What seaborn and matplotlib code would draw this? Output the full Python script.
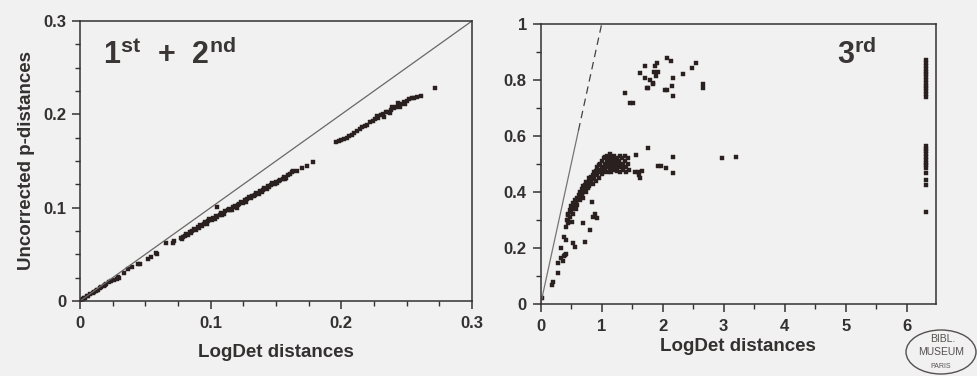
import numpy as np
import pandas as pd
import matplotlib
matplotlib.use("Agg")
import matplotlib.pyplot as plt
from matplotlib.patches import Ellipse
from matplotlib.ticker import MultipleLocator
import seaborn as sns

# ---- data ---------------------------------------------------------------
# left panel, 1st + 2nd codon positions
low_x = [0.001, 0.002, 0.003, 0.004, 0.005, 0.006, 0.008, 0.010, 0.011, 0.012,
         0.013, 0.014, 0.015, 0.016, 0.018, 0.019, 0.020, 0.022, 0.024, 0.026,
         0.028, 0.029, 0.030, 0.034, 0.037, 0.040, 0.044, 0.046, 0.052, 0.054,
         0.058, 0.059, 0.066, 0.071, 0.072]
low_y = [0.001, 0.002, 0.003, 0.003, 0.005, 0.005, 0.007, 0.009, 0.010, 0.011,
         0.012, 0.012, 0.014, 0.015, 0.016, 0.017, 0.018, 0.020, 0.021, 0.023,
         0.024, 0.026, 0.025, 0.030, 0.034, 0.036, 0.040, 0.040, 0.045, 0.047,
         0.051, 0.050, 0.062, 0.062, 0.064]

band1_x = [0.077, 0.078, 0.080, 0.081, 0.083, 0.084, 0.086, 0.087, 0.089, 0.090,
           0.092, 0.093, 0.095, 0.096, 0.098, 0.099, 0.101, 0.102, 0.104, 0.105,
           0.107, 0.108, 0.110, 0.111, 0.113, 0.114, 0.116, 0.117, 0.119, 0.120,
           0.122, 0.123, 0.125, 0.126, 0.128, 0.129, 0.131, 0.132, 0.134, 0.135,
           0.137, 0.138, 0.140, 0.141, 0.143, 0.144, 0.146, 0.147, 0.149, 0.150,
           0.152, 0.153, 0.155, 0.156, 0.158, 0.159, 0.161, 0.162,
           0.079, 0.085, 0.091, 0.097, 0.103, 0.109, 0.115, 0.121, 0.127, 0.133,
           0.139, 0.145, 0.151, 0.157, 0.163,
           0.105, 0.166, 0.170, 0.174, 0.178]
band1_y = [0.068, 0.066, 0.070, 0.072, 0.071, 0.074, 0.075, 0.077, 0.076, 0.079,
           0.081, 0.080, 0.083, 0.085, 0.086, 0.088, 0.087, 0.089, 0.091, 0.090,
           0.092, 0.094, 0.093, 0.096, 0.097, 0.099, 0.098, 0.101, 0.102, 0.100,
           0.104, 0.106, 0.105, 0.108, 0.109, 0.111, 0.110, 0.113, 0.114, 0.116,
           0.115, 0.118, 0.119, 0.121, 0.120, 0.123, 0.124, 0.126, 0.125, 0.128,
           0.129, 0.130, 0.131, 0.133, 0.132, 0.135, 0.136, 0.138,
           0.069, 0.073, 0.078, 0.083, 0.088, 0.092, 0.097, 0.103, 0.106, 0.112,
           0.117, 0.122, 0.126, 0.131, 0.139,
           0.1007, 0.139, 0.142, 0.145, 0.149]

band2_x = [0.196, 0.198, 0.200, 0.202, 0.204, 0.206, 0.208, 0.210, 0.212, 0.214,
           0.216, 0.218, 0.220, 0.222, 0.224, 0.226, 0.228, 0.230, 0.232, 0.234,
           0.236, 0.238, 0.240, 0.242, 0.244, 0.246, 0.248, 0.250, 0.252, 0.254,
           0.256, 0.258, 0.261, 0.227, 0.233, 0.239, 0.245, 0.249, 0.243, 0.237,
           0.272]
band2_y = [0.170, 0.171, 0.172, 0.174, 0.175, 0.177, 0.178, 0.180, 0.182, 0.184,
           0.186, 0.188, 0.189, 0.192, 0.193, 0.195, 0.196, 0.199, 0.200, 0.202,
           0.203, 0.205, 0.207, 0.208, 0.210, 0.211, 0.213, 0.214, 0.216, 0.217,
           0.218, 0.219, 0.220, 0.198, 0.197, 0.208, 0.208, 0.211, 0.212, 0.201,
           0.228]

# right panel, 3rd codon positions
third_x = [0.02, 0.18, 0.21, 0.29, 0.28, 0.34, 0.38, 0.40, 0.36, 0.42, 0.33, 0.41,
           0.39, 0.53, 0.56, 0.73, 0.70, 0.81, 0.86, 0.92, 0.89, 0.84, 0.45, 0.41,
           0.43, 0.51, 0.45,
           0.45, 0.45, 0.48, 0.48, 0.50, 0.50, 0.53, 0.53, 0.53, 0.56, 0.56, 0.58,
           0.58, 0.60, 0.60, 0.60, 0.63, 0.63, 0.65, 0.65, 0.65, 0.68, 0.68, 0.70,
           0.70, 0.70, 0.73, 0.73, 0.75, 0.75, 0.75, 0.78, 0.78, 0.80, 0.80, 0.80,
           0.83, 0.83, 0.85, 0.85, 0.85, 0.88, 0.88, 0.90, 0.90, 0.90, 0.93, 0.93,
           0.95, 0.95, 0.95, 0.98, 0.98, 1.00, 1.00, 1.00, 1.03, 1.03, 1.03, 1.05,
           1.05, 1.05, 1.08, 1.08, 1.08, 1.10, 1.10, 1.10, 1.13, 1.13, 1.13, 1.15,
           1.15, 1.15, 1.18, 1.18, 1.20, 1.20, 1.20, 1.23, 1.23, 1.25, 1.25, 1.25,
           1.28, 1.28, 1.30, 1.30, 1.30, 1.33, 1.33, 1.35, 1.35, 1.38, 1.38, 1.40,
           1.40, 1.43, 1.43, 1.45,
           1.55, 1.60, 1.62, 1.63, 1.57, 1.76, 1.93, 1.98, 2.06, 2.17, 2.17, 2.97,
           3.20, 1.66,
           1.38, 1.47, 1.51, 1.63, 1.71, 1.71, 1.74, 1.76, 1.84, 1.84, 1.85, 1.87,
           1.89, 1.90, 1.92, 2.04, 2.07, 2.07, 2.13, 2.15, 2.17, 2.17, 2.34, 2.48,
           2.54, 2.66, 2.66, 1.80]
third_y = [0.02, 0.068, 0.08, 0.11, 0.145, 0.163, 0.17, 0.175, 0.155, 0.18, 0.199,
           0.229, 0.24, 0.217, 0.205, 0.223, 0.288, 0.264, 0.312, 0.306, 0.32, 0.365,
           0.29, 0.274, 0.30, 0.294, 0.318,
           0.30, 0.32, 0.31, 0.335, 0.33, 0.35, 0.34, 0.36, 0.32, 0.35, 0.37, 0.36,
           0.34, 0.37, 0.38, 0.355, 0.375, 0.39, 0.385, 0.37, 0.40, 0.39, 0.41, 0.40,
           0.38, 0.42, 0.41, 0.425, 0.42, 0.40, 0.435, 0.43, 0.415, 0.435, 0.45, 0.42,
           0.44, 0.455, 0.445, 0.43, 0.46, 0.45, 0.47, 0.46, 0.44, 0.475, 0.465, 0.49,
           0.47, 0.45, 0.495, 0.48, 0.50, 0.485, 0.465, 0.51, 0.49, 0.52, 0.47, 0.50,
           0.48, 0.525, 0.49, 0.51, 0.53, 0.50, 0.47, 0.52, 0.485, 0.51, 0.535, 0.50,
           0.525, 0.47, 0.49, 0.515, 0.50, 0.48, 0.53, 0.51, 0.49, 0.52, 0.50, 0.475,
           0.49, 0.51, 0.50, 0.53, 0.47, 0.52, 0.49, 0.50, 0.48, 0.51, 0.53, 0.49,
           0.47, 0.50, 0.52, 0.48,
           0.473, 0.47, 0.46, 0.449, 0.532, 0.556, 0.493, 0.493, 0.485, 0.467, 0.526,
           0.52, 0.526, 0.475,
           0.752, 0.717, 0.717, 0.825, 0.85, 0.808, 0.773, 0.77, 0.79, 0.785, 0.828,
           0.85, 0.814, 0.862, 0.829, 0.764, 0.764, 0.877, 0.869, 0.779, 0.808, 0.743,
           0.82, 0.842, 0.862, 0.785, 0.770, 0.80]

# pairs with undefined LogDet, drawn at the right edge
sat_x = 6.32
sat_y = [0.74, 0.75, 0.76, 0.77, 0.78, 0.79, 0.80, 0.81, 0.82, 0.83, 0.84, 0.85,
         0.86, 0.87, 0.485, 0.495, 0.505, 0.515, 0.525, 0.535, 0.545, 0.555, 0.565,
         0.467, 0.443, 0.425, 0.33]

left_df = pd.DataFrame({"logdet": low_x + band1_x + band2_x,
                        "p": low_y + band1_y + band2_y})
right_df = pd.DataFrame({"logdet": third_x + [sat_x] * len(sat_y),
                         "p": third_y + sat_y})

# ---- style ---------------------------------------------------------------
sns.set_style("ticks")
ink = "#333030"
bg = "#f2f1f1"
plt.rcParams["font.family"] = ["Liberation Sans", "DejaVu Sans"]
plt.rcParams["font.weight"] = "bold"
plt.rcParams["mathtext.fontset"] = "custom"
plt.rcParams["mathtext.bf"] = "Liberation Sans:bold"
plt.rcParams["mathtext.rm"] = "Liberation Sans:bold"
plt.rcParams["text.color"] = ink
plt.rcParams["axes.labelcolor"] = ink
plt.rcParams["xtick.color"] = ink
plt.rcParams["ytick.color"] = ink

fig = plt.figure(figsize=(9.77, 3.76), dpi=100, facecolor=bg)
ax1 = fig.add_axes([0.0819, 0.1995, 0.4012, 0.7447])
ax2 = fig.add_axes([0.5534, 0.1915, 0.4046, 0.7447])

dot = "#2a2020"
sns.scatterplot(data=left_df, x="logdet", y="p", ax=ax1, marker="s", s=7,
                color=dot, edgecolor=dot, linewidth=0.3)
sns.scatterplot(data=right_df, x="logdet", y="p", ax=ax2, marker="s", s=12,
                color=dot, edgecolor=dot, linewidth=0.3)

# y = x reference lines
ax1.plot([0, 0.3], [0, 0.3], color="#6a6666", lw=0.9, zorder=1)
ax2.plot([0, 0.62], [0, 0.62], color="#777373", lw=0.9, zorder=1)
ax2.plot([0.62, 1.0], [0.62, 1.0], color="#444040", lw=0.9, ls=(0, (6, 4)), zorder=1)

ax1.set_xlim(0, 0.3)
ax1.set_ylim(0, 0.3)
ax1.set_xticks([0, 0.1, 0.2, 0.3])
ax1.set_yticks([0, 0.1, 0.2, 0.3])
ax1.xaxis.set_minor_locator(MultipleLocator(0.025))
ax1.yaxis.set_minor_locator(MultipleLocator(0.025))
ax1.set_xticklabels(["0", "0.1", "0.2", "0.3"])
ax1.set_yticklabels(["0", "0.1", "0.2", "0.3"])

ax2.set_xlim(0, 6.48)
ax2.set_ylim(0, 1)
ax2.set_xticks([0, 1, 2, 3, 4, 5, 6])
ax2.set_yticks([0, 0.2, 0.4, 0.6, 0.8, 1.0])
ax2.xaxis.set_minor_locator(MultipleLocator(0.5))
ax2.yaxis.set_minor_locator(MultipleLocator(0.1))
ax2.set_xticklabels(["0", "1", "2", "3", "4", "5", "6"])
ax2.set_yticklabels(["0", "0.2", "0.4", "0.6", "0.8", "1"])

for ax in (ax1, ax2):
    ax.set_facecolor(bg)
    for sp in ax.spines.values():
        sp.set_visible(True)
        sp.set_linewidth(1.1)
        sp.set_color(ink)
    ax.tick_params(which="major", direction="out", length=6, width=1.1,
                   labelsize=12, pad=4)
    ax.tick_params(which="minor", direction="out", length=3.5, width=1.0)
    ax.tick_params(axis="x", which="major", pad=5)
    ax.set_ylabel("")

ax1.set_xlabel("LogDet distances", fontsize=13.5, fontweight="bold", labelpad=9)
ax2.set_xlabel("LogDet distances", fontsize=13.5, fontweight="bold", labelpad=3)
ax1.set_ylabel("Uncorrected p-distances", fontsize=13.5, fontweight="bold",
               labelpad=6)

ax1.text(0.058, 0.88, r"$\mathbf{1^{st}\ +\ 2^{nd}}$", transform=ax1.transAxes,
         fontsize=22, ha="left", va="center", color="#3a3636")
ax2.text(0.749, 0.889, r"$\mathbf{3^{rd}}$", transform=ax2.transAxes,
         fontsize=22, ha="left", va="center", color="#3a3636")

# library stamp in the corner
stamp = Ellipse((941 / 977, 1 - 352 / 376), 70 / 977, 44 / 376,
                transform=fig.transFigure, fill=False, ec="#555050", lw=1.0)
fig.patches.append(stamp)
fig.text(943 / 977, 1 - 339 / 376, "BIBL.", fontsize=7.5, fontweight="normal",
         ha="center", va="center", color="#555050")
fig.text(941 / 977, 1 - 352 / 376, "MUSEUM", fontsize=7.5, fontweight="normal",
         ha="center", va="center", color="#555050")
fig.text(941 / 977, 1 - 366 / 376, "PARIS", fontsize=5, fontweight="normal",
         ha="center", va="center", color="#555050")

fig.savefig("out.png", dpi=100, facecolor=bg)
